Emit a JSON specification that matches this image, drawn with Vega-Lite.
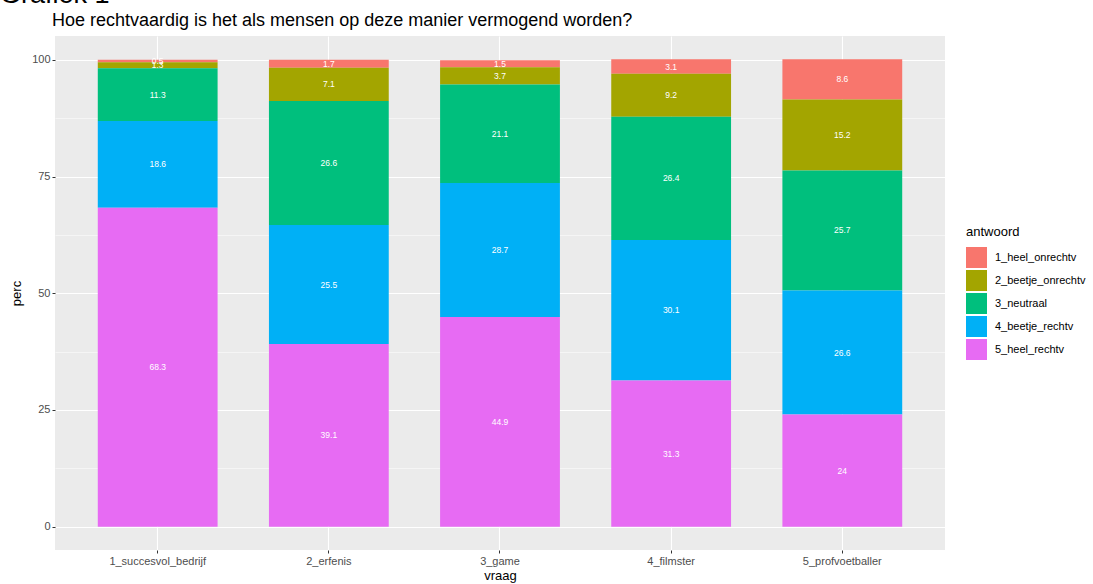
{
  "$schema": "https://vega.github.io/schema/vega-lite/v6.json",
  "autosize": {"type": "none"},
  "width": 890,
  "height": 514,
  "padding": {"left": 55, "top": 36, "right": 148, "bottom": 34},
  "background": "white",
  "title": {
    "text": "Grafiek 1",
    "subtitle": "\u2800\u2800\u2800\u2800Hoe rechtvaardig is het als mensen op deze manier vermogend worden?",
    "anchor": "start",
    "frame": "group",
    "dx": -55,
    "font": "Liberation Sans",
    "fontSize": 27,
    "fontWeight": "normal",
    "color": "black",
    "subtitleFont": "Liberation Sans",
    "subtitleFontSize": 18,
    "subtitleColor": "black",
    "subtitlePadding": 3,
    "offset": 5
  },
  "config": {
    "view": {"fill": "#EBEBEB", "stroke": null},
    "font": "Liberation Sans",
    "axis": {
      "labelColor": "#4D4D4D",
      "labelFontSize": 11,
      "labelFont": "Liberation Sans",
      "titleFont": "Liberation Sans",
      "titleFontSize": 13,
      "titleFontWeight": "normal",
      "titleColor": "black",
      "tickColor": "#333333",
      "tickSize": 3,
      "domain": false,
      "gridColor": "white",
      "gridWidth": 1.1
    },
    "legend": {
      "labelFont": "Liberation Sans",
      "titleFont": "Liberation Sans"
    }
  },
  "data": {
    "values": [
      {"vraag": "1_succesvol_bedrijf", "antwoord": "1_heel_onrechtv", "perc": 0.5},
      {"vraag": "1_succesvol_bedrijf", "antwoord": "2_beetje_onrechtv", "perc": 1.3},
      {"vraag": "1_succesvol_bedrijf", "antwoord": "3_neutraal", "perc": 11.3},
      {"vraag": "1_succesvol_bedrijf", "antwoord": "4_beetje_rechtv", "perc": 18.6},
      {"vraag": "1_succesvol_bedrijf", "antwoord": "5_heel_rechtv", "perc": 68.3},
      {"vraag": "2_erfenis", "antwoord": "1_heel_onrechtv", "perc": 1.7},
      {"vraag": "2_erfenis", "antwoord": "2_beetje_onrechtv", "perc": 7.1},
      {"vraag": "2_erfenis", "antwoord": "3_neutraal", "perc": 26.6},
      {"vraag": "2_erfenis", "antwoord": "4_beetje_rechtv", "perc": 25.5},
      {"vraag": "2_erfenis", "antwoord": "5_heel_rechtv", "perc": 39.1},
      {"vraag": "3_game", "antwoord": "1_heel_onrechtv", "perc": 1.5},
      {"vraag": "3_game", "antwoord": "2_beetje_onrechtv", "perc": 3.7},
      {"vraag": "3_game", "antwoord": "3_neutraal", "perc": 21.1},
      {"vraag": "3_game", "antwoord": "4_beetje_rechtv", "perc": 28.7},
      {"vraag": "3_game", "antwoord": "5_heel_rechtv", "perc": 44.9},
      {"vraag": "4_filmster", "antwoord": "1_heel_onrechtv", "perc": 3.1},
      {"vraag": "4_filmster", "antwoord": "2_beetje_onrechtv", "perc": 9.2},
      {"vraag": "4_filmster", "antwoord": "3_neutraal", "perc": 26.4},
      {"vraag": "4_filmster", "antwoord": "4_beetje_rechtv", "perc": 30.1},
      {"vraag": "4_filmster", "antwoord": "5_heel_rechtv", "perc": 31.3},
      {"vraag": "5_profvoetballer", "antwoord": "1_heel_onrechtv", "perc": 8.6},
      {"vraag": "5_profvoetballer", "antwoord": "2_beetje_onrechtv", "perc": 15.2},
      {"vraag": "5_profvoetballer", "antwoord": "3_neutraal", "perc": 25.7},
      {"vraag": "5_profvoetballer", "antwoord": "4_beetje_rechtv", "perc": 26.6},
      {"vraag": "5_profvoetballer", "antwoord": "5_heel_rechtv", "perc": 24}
    ]
  },
  "encoding": {
    "x": {
      "field": "vraag",
      "type": "nominal",
      "scale": {"paddingInner": 0.3, "paddingOuter": 0.25},
      "axis": {
        "title": "vraag",
        "labelAngle": 0,
        "grid": true,
        "bandPosition": 0.5,
        "labelPadding": 2,
        "titlePadding": 3
      }
    }
  },
  "layer": [
    {
      "mark": {"type": "bar"},
      "encoding": {
        "y": {
          "field": "perc",
          "type": "quantitative",
          "stack": "zero",
          "scale": {"domain": [-5, 105.1], "nice": false, "zero": false},
          "axis": {
            "title": "perc",
            "values": [0, 25, 50, 75, 100],
            "grid": true,
            "labelPadding": 2,
            "titlePadding": 8
          }
        },
        "color": {
          "field": "antwoord",
          "type": "nominal",
          "scale": {
            "domain": ["1_heel_onrechtv", "2_beetje_onrechtv", "3_neutraal", "4_beetje_rechtv", "5_heel_rechtv"],
            "range": ["#F8766D", "#A3A500", "#00BF7D", "#00B0F6", "#E76BF3"]
          },
          "legend": {
            "title": "antwoord",
            "orient": "none",
            "legendX": 911,
            "legendY": 190,
            "symbolType": "square",
            "symbolSize": 441,
            "symbolStrokeWidth": 0,
            "symbolOpacity": 1,
            "rowPadding": 2,
            "labelOffset": 8,
            "labelFontSize": 11,
            "labelColor": "black",
            "titleFontSize": 13,
            "titleFontWeight": "normal",
            "titleColor": "black",
            "titlePadding": 8
          }
        },
        "order": {"field": "antwoord", "sort": "descending"}
      }
    },
    {
      "mark": {"type": "text", "color": "white", "fontSize": 8.5, "font": "Liberation Sans", "baseline": "middle"},
      "encoding": {
        "y": {
          "field": "perc",
          "type": "quantitative",
          "stack": "zero",
          "bandPosition": 0.5,
          "axis": {
            "orient": "right",
            "title": null,
            "labels": false,
            "ticks": false,
            "domain": false,
            "grid": true,
            "gridWidth": 0.5,
            "values": [12.5, 37.5, 62.5, 87.5]
          }
        },
        "text": {"field": "perc", "type": "quantitative"},
        "detail": {"field": "antwoord", "type": "nominal"},
        "order": {"field": "antwoord", "sort": "descending"}
      }
    }
  ],
  "resolve": {"axis": {"y": "independent"}}
}
